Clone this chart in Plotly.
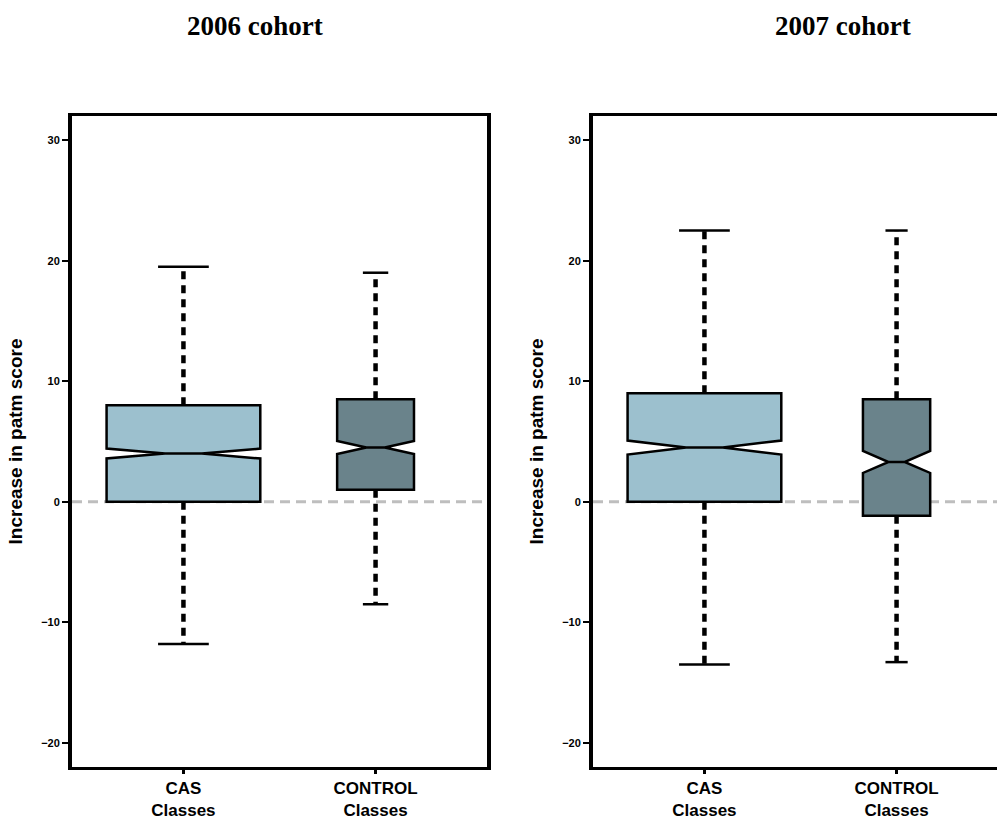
import plotly.graph_objects as go

# ---------------- data ----------------
panel_titles = ["2006 cohort", "2007 cohort"]
categories = ["CAS<br>Classes", "CONTROL<br>Classes"]
positions = [1, 2]

# 2006 cohort
q1_2006 = [0.0, 1.0]
median_2006 = [4.0, 4.5]
q3_2006 = [8.0, 8.5]
lower_2006 = [-11.8, -8.5]
upper_2006 = [19.5, 19.0]
notch_2006 = [0.41, 0.54]
width_2006 = [0.80, 0.40]

# 2007 cohort
q1_2007 = [0.0, -1.15]
median_2007 = [4.5, 3.3]
q3_2007 = [9.0, 8.5]
lower_2007 = [-13.5, -13.3]
upper_2007 = [22.5, 22.5]
notch_2007 = [0.58, 0.91]
width_2007 = [0.80, 0.35]

y_tickvals = [-20, -10, 0, 10, 20, 30]
y_title = "Increase in patm score"

# ---------------- style ----------------
fills = ["#9CC0CE", "#6A838B"]
cap_frac = 0.33

fig = go.Figure()

panels = [
    (q1_2006, median_2006, q3_2006, lower_2006, upper_2006, notch_2006, width_2006, "x", "y"),
    (q1_2007, median_2007, q3_2007, lower_2007, upper_2007, notch_2007, width_2007, "x2", "y2"),
]

for (q1s, meds, q3s, lows, ups, notches, widths, xa, ya) in panels:
    for i, pos in enumerate(positions):
        # dashed whiskers
        fig.add_trace(go.Scatter(
            x=[pos, pos, None, pos, pos],
            y=[q3s[i], ups[i], None, q1s[i], lows[i]],
            mode="lines", line=dict(color="black", width=4.5, dash="8px,6px"),
            hoverinfo="skip", showlegend=False, xaxis=xa, yaxis=ya))
        # caps
        cw = widths[i] * cap_frac / 2
        fig.add_trace(go.Scatter(
            x=[pos - cw, pos + cw, None, pos - cw, pos + cw],
            y=[ups[i], ups[i], None, lows[i], lows[i]],
            mode="lines", line=dict(color="black", width=2.5),
            hoverinfo="skip", showlegend=False, xaxis=xa, yaxis=ya))
        # notched box
        fig.add_trace(go.Box(
            x=[pos], q1=[q1s[i]], median=[meds[i]], q3=[q3s[i]],
            lowerfence=[q1s[i]], upperfence=[q3s[i]],
            notched=True, notchspan=[notches[i]], notchwidth=0.38,
            width=widths[i], whiskerwidth=0, boxpoints=False,
            fillcolor=fills[i], line=dict(color="black", width=2.5),
            showlegend=False, xaxis=xa, yaxis=ya))

L, R, T, B = 72, 0, 116, 53
W, H = 997, 820
pw = W - L - R
ph = H - T - B

def px_x(px):
    return (px - L) / pw

def px_y(py):
    return (H - B - py) / ph

tickfont = dict(family="Liberation Sans", size=11, color="black", weight="bold")
xtickfont = dict(family="Liberation Sans", size=17, color="black", weight="bold")
titlefont = dict(family="Liberation Sans", size=19, color="black", weight="bold")

common_x = dict(range=[0.42, 2.58], tickvals=positions, ticktext=categories,
                showgrid=False, zeroline=False, showline=True, linecolor="black",
                linewidth=2.5, mirror=True, ticks="outside", ticklen=4, tickwidth=3,
                tickcolor="black", tickfont=xtickfont, automargin=False)
common_y = dict(range=[-22, 32], tickvals=y_tickvals, showgrid=False, zeroline=False,
                showline=True, linecolor="black", linewidth=4, ticks="outside",
                ticklen=6, tickwidth=1.5, tickcolor="black", tickfont=tickfont,
                automargin=False,
                title=dict(text=y_title, font=titlefont, standoff=14))

right_range_end = 2.58 - (1008 - 997) / (415 / 2.16)

fig.update_layout(
    width=W, height=H,
    margin=dict(l=L, r=R, t=T, b=B),
    paper_bgcolor="white", plot_bgcolor="white",
    boxmode="overlay",
    xaxis=dict(common_x, domain=[0, px_x(487)], anchor="y"),
    yaxis=dict(common_y, domain=[0, 1], anchor="x", mirror=True),
    xaxis2=dict(common_x, domain=[px_x(593), 1], anchor="y2"),
    yaxis2=dict(common_y, domain=[0, 1], anchor="x2", mirror=False),
)
fig.layout.xaxis2.range = [0.42, right_range_end]

# zero reference lines
for xref, yref in [("x domain", "y"), ("x2 domain", "y2")]:
    fig.add_shape(type="line", xref=xref, yref=yref, x0=0, x1=1, y0=0, y1=0,
                  line=dict(color="#BEBEBE", width=3, dash="10px,6px"), layer="below")

# panel titles
for txt, xp in zip(panel_titles, [255, 843]):
    fig.add_annotation(text=txt, xref="paper", yref="paper", x=px_x(xp), y=px_y(26),
                       showarrow=False, xanchor="center", yanchor="middle",
                       font=dict(family="Liberation Serif", size=27, color="black", weight="bold"))

fig.write_html("out.html", config={"displayModeBar": False},
               post_script="document.body.style.margin='0';document.body.style.overflow='hidden';")
